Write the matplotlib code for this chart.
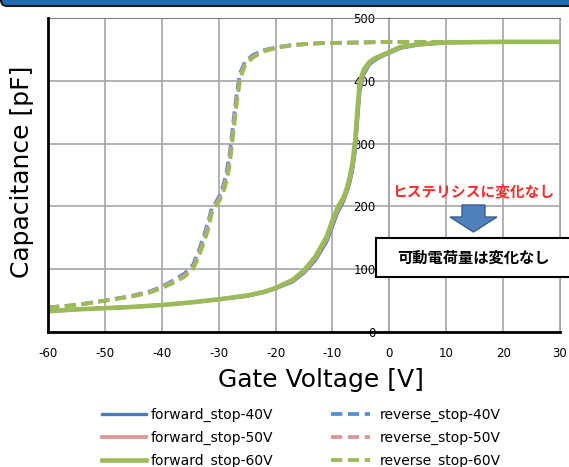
import matplotlib
matplotlib.use("Agg")
import matplotlib.pyplot as plt
from matplotlib.patches import FancyBboxPatch, Rectangle, Polygon
from matplotlib.transforms import IdentityTransform

plt.rcParams['axes.unicode_minus'] = False

# forward sweep (solid)
fwd_v = [-60, -55, -50, -45, -40, -35, -30, -25, -22, -20, -17, -15, -13, -11, -10, -9, -8, -7.5,
         -7, -6.5, -6, -5.6, -5.2, -4.5, -3.5, -2.5, -1.5, 0, 2, 5, 10, 20, 30]
fwd_c40 = [33, 36, 38, 40, 43, 47, 52, 57, 63, 69, 80, 94, 114, 144, 168, 192, 209, 222,
           236, 256, 288, 335, 382, 410, 426, 433, 438, 444, 452, 457, 461, 462, 462]
fwd_c50 = [33, 36, 38, 40, 43, 47, 52, 58, 64, 70, 82, 96, 117, 148, 173, 196, 212, 225,
           240, 262, 296, 345, 390, 414, 428, 435, 439, 445, 453, 458, 461, 462, 462]
fwd_c60 = [33, 36, 38, 40, 43, 47, 52, 58, 64, 70, 83, 98, 120, 152, 178, 200, 215, 228,
           245, 268, 305, 355, 398, 418, 430, 436, 440, 446, 454, 458, 461, 462, 462]

# reverse sweep (dashed)
rev_v = [-60, -55, -50, -45, -42, -40, -38, -36, -34.5, -33.5, -32.5, -31.8, -31.2, -30.5, -29.8,
         -29.2, -28.6, -28, -27.4, -26.8, -26.2, -25.4, -24, -22, -19.5, -17, -12, -5, 0, 10, 30]
rev_c40 = [39, 43, 50, 58, 65, 72, 82, 93, 107, 129, 156, 177, 198, 206, 218,
           233, 255, 288, 336, 382, 413, 430, 441, 449, 454, 457, 460, 461, 462, 462, 462]
rev_c50 = [39, 43, 50, 57, 64, 71, 80, 90, 103, 124, 150, 171, 194, 203, 214,
           227, 247, 279, 327, 374, 408, 427, 439, 448, 453, 457, 460, 461, 462, 462, 462]
rev_c60 = [39, 43, 50, 57, 63, 70, 78, 88, 100, 120, 145, 165, 190, 200, 210,
           222, 240, 270, 318, 366, 403, 424, 437, 447, 453, 457, 460, 461, 462, 462, 462]

x_ticks = [-60, -50, -40, -30, -20, -10, 0, 10, 20, 30]
y_ticks = [0, 100, 200, 300, 400, 500]

fig = plt.figure(figsize=(5.69, 4.67), dpi=100)
ax = fig.add_axes([48/569, 135/467, 512/569, 314/467])

ax.set_xlim(-60, 30)
ax.set_ylim(0, 500)
ax.set_xticks(x_ticks)
ax.set_yticks(y_ticks)
ax.grid(True, color='#A6A6A6', lw=1.2)
ax.set_axisbelow(True)

# forward
ax.plot(fwd_v, fwd_c40, color='#4A7EBB', lw=2.4, label='forward_stop-40V', zorder=3)
ax.plot(fwd_v, fwd_c50, color='#DA9694', lw=2.7, label='forward_stop-50V', zorder=4)
ax.plot(fwd_v, fwd_c60, color='#9BBB59', lw=3.3, label='forward_stop-60V', zorder=5)
# reverse
dash = (3.0, 1.5)
ax.plot(rev_v, rev_c40, color='#558ED5', lw=2.7, dashes=dash, label='reverse_stop-40V', zorder=3)
ax.plot(rev_v, rev_c50, color='#DA9694', lw=2.7, dashes=dash, label='reverse_stop-50V', zorder=4)
ax.plot(rev_v, rev_c60, color='#9BBB59', lw=2.7, dashes=dash, label='reverse_stop-60V', zorder=5)

# y axis crosses at 0 V
ax.spines['left'].set_position(('data', 0))
ax.spines['left'].set_color('#A6A6A6')
ax.spines['left'].set_linewidth(1.2)
ax.spines['bottom'].set_color('black')
ax.spines['bottom'].set_linewidth(2)
ax.spines['top'].set_color('#7F7F7F')
ax.spines['right'].set_color('#A6A6A6')
ax.axvline(-60, color='black', lw=2, clip_on=False, zorder=6)
ax.tick_params(axis='y', length=0, pad=10, labelsize=8.5)
ax.tick_params(axis='x', length=0, pad=11, labelsize=8.5)

ax.set_xlabel('Gate Voltage [V]', fontsize=18)
ax.set_ylabel('Capacitance [pF]', fontsize=18)
ax.xaxis.set_label_coords(0.533, -0.115)
ax.yaxis.set_label_coords(-0.027, 0.511)

# legend, two columns
h, l = ax.get_legend_handles_labels()
leg1 = fig.legend(h[:3], l[:3], loc='upper left', bbox_to_anchor=(102/569, 1 - 408/467),
                  frameon=False, fontsize=10, handlelength=3.2, handletextpad=0.3,
                  labelspacing=0.62, borderpad=0, borderaxespad=0)
leg2 = fig.legend(h[3:], l[3:], loc='upper left', bbox_to_anchor=(331/569, 1 - 408/467),
                  frameon=False, fontsize=10, handlelength=2.8, handletextpad=0.7,
                  labelspacing=0.62, borderpad=0, borderaxespad=0)

# header bar
idt = IdentityTransform()
fig.add_artist(FancyBboxPatch((1, 461), 600, 40, boxstyle='round,pad=0,rounding_size=6',
                              fc='#1F6CB4', ec='#1A1A1A', lw=1.5, transform=idt))

# annotations
jp = ['Noto Sans CJK JP', 'DejaVu Sans']
fig.text(473/569, 1 - 191/467, 'ヒステリシスに変化なし', color='#FF2A2A', fontsize=10.6,
         fontweight='bold', family=jp, ha='center', va='center')
arrow = [(462, 467-205), (485, 467-205), (485, 467-217), (497, 467-217),
         (473.5, 467-232), (450, 467-217), (462, 467-217)]
fig.add_artist(Polygon(arrow, closed=True, fc='#4F81BD', ec='#385D8A', lw=1, transform=idt))
fig.add_artist(Rectangle((376, 467-277), 220, 39, fc='white', ec='black', lw=1.5, transform=idt))
fig.text(473/569, 1 - 258/467, '可動電荷量は変化なし', color='black', fontsize=11,
         fontweight='bold', family=jp, ha='center', va='center')

fig.savefig('out.png', dpi=100)
